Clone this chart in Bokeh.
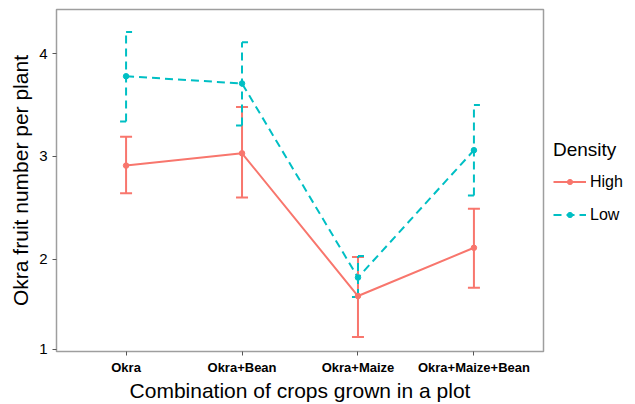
from bokeh.plotting import figure
from bokeh.layouts import row
from bokeh.models import (FactorRange, Range1d, Whisker, ColumnDataSource, FixedTicker,
                          Legend, LegendItem, TeeHead)
from bokeh.embed import file_html
from bokeh.resources import INLINE

crops = ["Okra", "Okra+Bean", "Okra+Maize", "Okra+Maize+Bean"]
high_mean = [2.91, 3.03, 1.64, 2.11]
high_upper = [3.19, 3.48, 2.02, 2.49]
high_lower = [2.64, 2.60, 1.24, 1.72]
low_mean = [3.78, 3.71, 1.82, 3.06]
low_upper = [4.21, 4.11, 2.03, 3.50]
low_lower = [3.34, 3.30, 1.63, 2.62]
y_tick_values = [1.12, 2, 3, 4]
y_tick_labels = ["1", "2", "3", "4"]
series_names = ["High", "Low"]

RED = "#F8766D"
CYAN = "#00BFC4"
FONT = "Liberation Sans"

p = figure(x_range=FactorRange(factors=crops, range_padding=0.1, range_padding_units="absolute"),
           y_range=Range1d(1.10, 4.43),
           width=545, height=404,
           min_border_left=56, min_border_right=2, min_border_top=9, min_border_bottom=53,
           output_backend="svg", toolbar_location=None)

p.background_fill_color = "white"
p.border_fill_color = "white"
p.grid.visible = False
p.outline_line_color = "#9e9e9e"
p.outline_line_width = 1.5

src_h = ColumnDataSource(dict(x=crops, mean=high_mean, upper=high_upper, lower=high_lower))
src_l = ColumnDataSource(dict(x=crops, mean=low_mean, upper=low_upper, lower=low_lower))

wh = Whisker(base="x", upper="upper", lower="lower", source=src_h,
             line_color=RED, line_width=2, level="underlay",
             upper_head=TeeHead(size=12, line_color=RED, line_width=2),
             lower_head=TeeHead(size=12, line_color=RED, line_width=2))
p.add_layout(wh)
wl = Whisker(base="x", upper="upper", lower="lower", source=src_l,
             line_color=CYAN, line_width=2, line_dash="8 5", level="underlay",
             upper_head=TeeHead(size=12, line_color=CYAN, line_width=2, line_dash="6 6"),
             lower_head=TeeHead(size=12, line_color=CYAN, line_width=2, line_dash="6 6"))
p.add_layout(wl)


def draw_series(fig):
    a = fig.line("x", "mean", source=src_h, line_color=RED, line_width=2)
    b = fig.scatter("x", "mean", source=src_h, size=5.5, color=RED)
    c = fig.line("x", "mean", source=src_l, line_color=CYAN, line_width=2, line_dash="8 5")
    d = fig.scatter("x", "mean", source=src_l, size=5.5, color=CYAN)
    return a, b, c, d


draw_series(p)

# axes
for ax in (p.xaxis[0], p.yaxis[0]):
    ax.axis_line_color = None
    ax.major_tick_line_color = "#555555"
    ax.major_tick_out = 4
    ax.major_tick_in = 0
    ax.minor_tick_line_color = None
    ax.major_label_text_color = "black"
    ax.major_label_text_font = FONT
    ax.axis_label_text_font = FONT
    ax.axis_label_text_font_style = "normal"
    ax.axis_label_text_color = "black"
    ax.axis_label_text_font_size = "21px"

p.xaxis.major_label_text_font_style = "bold"
p.xaxis.major_label_text_font_size = "13px"
p.xaxis.major_label_standoff = 4
p.xaxis.axis_label = "Combination of crops grown in a plot"
p.xaxis.axis_label_standoff = 1

p.yaxis.ticker = FixedTicker(ticks=y_tick_values)
p.yaxis.major_label_overrides = dict(zip(y_tick_values, y_tick_labels))
p.yaxis.major_label_text_font_size = "15px"
p.yaxis.major_label_standoff = 5
p.yaxis.axis_label = "Okra fruit number per plant"
p.yaxis.axis_label_standoff = 4

# legend panel: a narrow figure whose view shows none of the data, only the legend
lg = figure(width=90, height=404, x_range=FactorRange(factors=crops), y_range=Range1d(10, 11),
            min_border=0, x_axis_location=None, y_axis_location=None,
            output_backend="svg", toolbar_location=None)
lg.grid.visible = False
lg.outline_line_color = None
lg.background_fill_color = "white"
lg.border_fill_color = "white"
klh, kph, kll, kpl = draw_series(lg)

legend = Legend(items=[LegendItem(label=series_names[0], renderers=[klh, kph]),
                       LegendItem(label=series_names[1], renderers=[kll, kpl])],
                location=(8, 120), title="Density",
                title_text_font=FONT, title_text_font_size="19px", title_text_color="black",
                title_text_font_style="normal", title_standoff=4,
                label_text_font=FONT, label_text_font_size="16px", label_text_color="black",
                glyph_width=33, glyph_height=13, label_height=33, label_standoff=4,
                spacing=0, padding=0, margin=0,
                border_line_color=None, background_fill_alpha=0)
lg.add_layout(legend)

layout = row(p, lg)
open("out.html", "w").write(file_html(layout, INLINE))
